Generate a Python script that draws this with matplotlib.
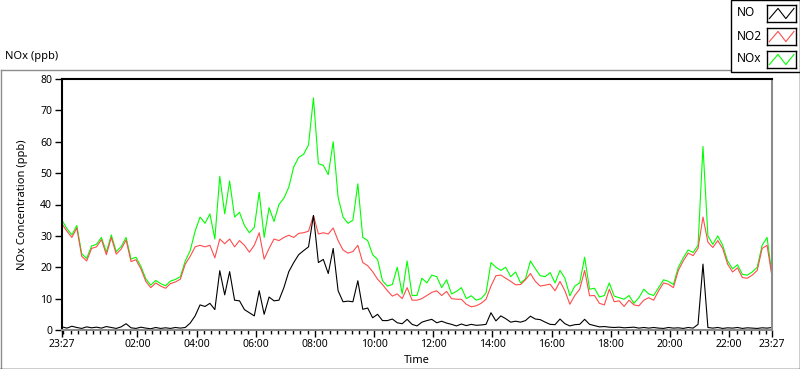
import pandas as pd
import matplotlib
matplotlib.use('Agg')
import matplotlib.pyplot as plt
import matplotlib.dates as mdates
from matplotlib.lines import Line2D
from matplotlib.patches import Rectangle

plt.rcParams['font.family'] = ['Noto Sans', 'DejaVu Sans']

# 10-minute readings, 23:27 to 23:27 next day
times = pd.date_range('2013-06-01 23:27', periods=145, freq='10min')

no2 = [33.8, 31.5, 29.5, 32.5, 23.5, 22.0, 26.0, 26.5, 28.8, 24.0,
       29.5, 24.2, 25.8, 28.7, 21.8, 22.4, 19.5, 15.5, 13.5, 15.0,
       14.0, 13.3, 14.8, 15.3, 16.2, 21.0, 23.5, 26.5, 27.0, 26.5,
       27.0, 23.0, 29.0, 27.5, 29.0, 26.5, 28.5, 27.0, 24.8, 27.0,
       31.0, 22.6, 26.0, 29.0, 28.5, 29.5, 30.2, 29.5, 30.8, 31.0,
       31.5, 36.5, 30.6, 31.0, 30.6, 32.5, 28.5, 25.5, 24.5, 25.0,
       27.0, 21.5, 20.5, 18.6, 16.2, 14.5, 12.5, 10.8, 11.5, 10.0,
       13.5, 9.5, 9.5, 10.0, 11.0, 12.0, 12.5, 11.0, 12.3, 10.0,
       9.8, 9.8, 8.2, 7.4, 7.7, 8.5, 9.8, 14.0, 17.3, 17.5,
       16.5, 15.5, 14.4, 14.5, 16.0, 18.0, 15.5, 14.0, 14.3, 14.6,
       12.5, 15.5, 12.5, 8.2, 11.0, 13.0, 19.0, 10.9, 11.0, 8.5,
       8.0, 13.0, 9.0, 9.3, 7.5, 9.5, 8.0, 7.7, 9.5, 10.3,
       9.5, 12.5, 15.0, 14.6, 13.5, 19.0, 22.0, 24.5, 23.7, 26.0,
       36.0, 28.0, 26.3, 28.5, 26.0, 21.0, 18.5, 19.8, 16.7, 16.5,
       17.5, 19.0, 26.0, 27.0, 17.0]

nox = [35.0, 32.3, 30.3, 33.3, 24.3, 22.8, 26.8, 27.3, 29.5, 24.8,
       30.3, 25.0, 26.6, 29.5, 22.6, 23.2, 20.3, 16.3, 14.3, 15.8,
       14.8, 14.1, 15.6, 16.1, 17.0, 22.0, 25.3, 31.5, 36.0, 34.0,
       37.0, 29.0, 49.0, 37.0, 47.5, 36.0, 37.5, 33.3, 31.0, 32.7,
       43.9, 29.5, 39.0, 34.6, 40.0, 42.0, 45.5, 52.0, 55.0, 56.0,
       59.0, 74.0, 53.0, 52.5, 49.5, 60.0, 42.3, 36.0, 34.0, 35.0,
       46.6, 29.5, 28.5, 24.0, 22.5, 15.7, 14.0, 14.5, 20.0, 11.5,
       22.0, 11.0, 11.0, 16.5, 15.0, 17.5, 17.0, 13.5, 16.0, 11.5,
       12.3, 13.5, 10.0, 10.9, 9.5, 10.0, 11.8, 21.5, 20.0, 19.0,
       20.0, 17.0, 18.5, 15.0, 16.3, 22.0, 19.5, 17.3, 17.0, 18.3,
       15.0, 19.0, 16.5, 10.9, 14.0, 15.0, 23.2, 13.0, 13.3, 10.5,
       11.0, 15.0, 10.8, 10.3, 9.8, 11.0, 8.5, 10.3, 13.0, 11.5,
       11.0, 13.5, 16.0, 15.5, 14.5, 20.0, 23.0, 25.5, 24.7, 27.0,
       58.5, 30.0, 27.3, 30.0, 27.0, 22.0, 19.5, 20.8, 17.7, 17.5,
       18.5, 20.0, 27.0, 29.5, 17.5]

no = [1.0, 0.6, 1.2, 0.8, 0.5, 1.0, 0.7, 0.9, 0.6, 1.1,
      0.8, 0.5, 1.0, 2.0, 0.7, 0.5, 0.9, 0.6, 0.4, 0.8,
      0.5, 0.7, 0.5, 0.8, 0.6, 0.8, 2.2, 4.5, 8.0, 7.5,
      8.5, 6.5, 18.9, 11.2, 18.6, 9.5, 9.3, 6.5, 5.5, 4.5,
      12.5, 5.0, 10.5, 9.3, 9.5, 13.5, 18.6, 21.5, 24.0, 25.3,
      26.5, 36.5, 21.5, 22.5, 18.0, 26.0, 12.5, 9.0, 9.2, 9.0,
      15.7, 6.6, 7.0, 3.9, 5.0, 3.0, 3.0, 3.5, 2.3, 2.0,
      3.4, 1.8, 1.3, 2.5, 3.0, 3.4, 2.3, 2.8, 2.2, 1.8,
      1.3, 1.9, 1.4, 1.8, 1.5, 1.6, 1.8, 5.5, 2.9, 4.5,
      3.6, 2.5, 2.8, 2.5, 3.0, 4.4, 3.5, 3.3, 2.5, 1.8,
      1.7, 3.5, 2.0, 1.3, 1.7, 1.8, 3.4, 1.8, 1.4, 1.0,
      1.1, 0.9, 0.8, 0.9, 0.7, 0.8, 0.9, 0.6, 0.8, 0.6,
      0.8, 0.6, 0.5, 0.8, 0.6, 0.7, 0.5, 0.8, 0.6, 1.8,
      21.0, 0.8, 0.6, 0.8, 0.5, 0.7, 0.6, 0.8, 0.5, 0.7,
      0.6, 0.5, 0.7, 0.6, 0.8]

series_names = ['NO', 'NO2', 'NOx']
series_colors = ['black', '#ff4c4c', '#00ff00']

W, H = 800, 369
fig = plt.figure(figsize=(W / 100, H / 100), dpi=100)


def fx(px):
    return px / W


def fy(py):
    return 1 - py / H


def fline(xs, ys, color):
    fig.add_artist(Line2D([fx(v) for v in xs], [fy(v) for v in ys],
                          color=color, lw=1, transform=fig.transFigure))


# outer panel frame
fline([0.5, 730], [69.5, 69.5], '#8c8c8c')
fline([0.5, 0.5], [69.5, 368.5], '#8c8c8c')
fline([0, 799.5], [368.5, 368.5], 'black')
fline([799.5, 799.5], [72, 368.5], 'black')

fig.text(fx(5), fy(57), 'NOx (ppb)', fontsize=8, va='center', ha='left')

ax = fig.add_axes([fx(62), fy(330), fx(772) - fx(62), fy(79) - fy(330)])
ax.plot(times, nox, color=series_colors[2], lw=0.8)
ax.plot(times, no2, color=series_colors[1], lw=0.8)
ax.plot(times, no, color=series_colors[0], lw=0.8)

start = times[0]
end = start + pd.Timedelta(hours=24)
ax.set_xlim(start, end)
ax.set_ylim(0, 80)

major = [start] + list(pd.date_range('2013-06-02 02:00', '2013-06-02 22:00', freq='2h')) + [end]
minor = pd.date_range('2013-06-01 23:30', '2013-06-02 23:15', freq='15min')
ax.set_xticks(major)
ax.set_xticks(minor, minor=True)
ax.xaxis.set_major_formatter(mdates.DateFormatter('%H:%M'))
ax.set_yticks(range(0, 81, 10))

ax.tick_params(axis='x', which='major', length=5, width=1, labelsize=7.5, pad=1.5)
ax.tick_params(axis='x', which='minor', length=3, width=1)
ax.tick_params(axis='y', length=5, width=1, labelsize=7.5, pad=2)

for side in ['top', 'left']:
    ax.spines[side].set_color('black')
    ax.spines[side].set_linewidth(1.5)
for side in ['bottom', 'right']:
    ax.spines[side].set_color('#8c8c8c')
    ax.spines[side].set_linewidth(1.5)

ax.set_ylabel('NOx Concentration (ppb)', fontsize=8, va='center')
ax.yaxis.set_label_coords(-0.056, 0.5)
ax.set_xlabel('Time', fontsize=8, va='center')
ax.xaxis.set_label_coords(0.5, -0.12)

# legend panel
fig.add_artist(Rectangle((fx(730.5), fy(72)), fx(799.5) - fx(730.5), fy(0) - fy(72),
                         transform=fig.transFigure, facecolor='white',
                         edgecolor='black', lw=1, zorder=5))
legend_rows = [13, 36, 59]
for name, color, row in zip(series_names, series_colors, legend_rows):
    fig.text(fx(737), fy(row), name, fontsize=8.5, va='center', ha='left', zorder=6)
    sw = fig.add_axes([fx(767), fy(row + 9), fx(796) - fx(767), fy(row - 8) - fy(row + 9)])
    sw.set_zorder(6)
    sw.plot([0.08, 0.38, 0.65, 0.93], [0.2, 0.8, 0.2, 0.8], color=color, lw=0.8)
    sw.set_xlim(0, 1)
    sw.set_ylim(0, 1)
    sw.set_xticks([])
    sw.set_yticks([])
    for s in sw.spines.values():
        s.set_color('black')
        s.set_linewidth(1)

fig.savefig('out.png', dpi=100)
